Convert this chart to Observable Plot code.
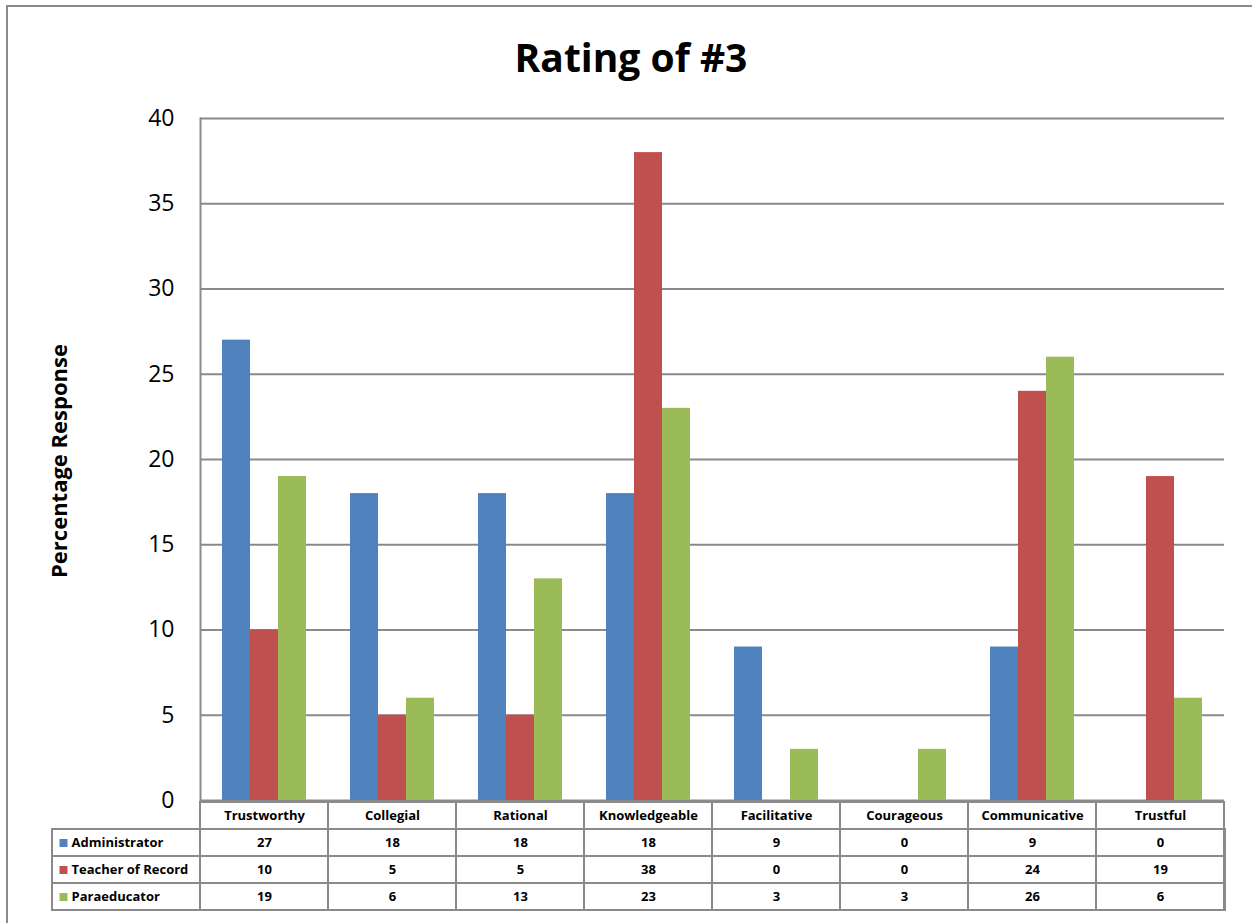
<!DOCTYPE html>
<html>
<head>
<meta charset="utf-8">
<script src="https://cdn.jsdelivr.net/npm/d3@7"></script>
<script src="https://cdn.jsdelivr.net/npm/@observablehq/plot@0.6"></script>
<style>
  html, body { margin: 0; padding: 0; background: #fff; overflow: hidden; }
  #page { position: relative; width: 1252px; height: 923px; overflow: hidden; font-family: "Open Sans", sans-serif; color: #000; }
  #page svg { position: absolute; left: 0; }
  #border { position: absolute; left: 6px; top: 5px; width: 1400px; height: 1000px; border: 2px solid #8a8a8a; box-sizing: border-box; pointer-events: none; }
  #title { position: absolute; left: 0; width: 1262px; top: 37px; text-align: center; font-weight: 700; font-size: 39px; line-height: 39px; }
  #ylabel { position: absolute; left: -92px; width: 300px; top: 446px; height: 30px; line-height: 30px; text-align: center; font-weight: 700; font-size: 22px; transform: rotate(-90deg); transform-origin: 150px 15px; }
</style>
</head>
<body>
<div id="page">
  <div id="title">Rating of #3</div>
  <div id="ylabel">Percentage Response</div>
  <div id="border"></div>
</div>
<script>
// Categories rated and the share of each respondent group choosing them
const categories = ["Trustworthy", "Collegial", "Rational", "Knowledgeable", "Facilitative", "Courageous", "Communicative", "Trustful"];
const seriesNames = ["Administrator", "Teacher of Record", "Paraeducator"];
const seriesColors = ["#4F81BD", "#C0504D", "#9BBB59"];
const administrator = [27, 18, 18, 18, 9, 0, 9, 0];
const teacherOfRecord = [10, 5, 5, 38, 0, 0, 24, 19];
const paraeducator = [19, 6, 13, 23, 3, 3, 26, 6];
const yTicks = [0, 5, 10, 15, 20, 25, 30, 35, 40];

const seriesValues = [administrator, teacherOfRecord, paraeducator];
const rows = categories.flatMap((category, i) =>
  seriesNames.map((series, j) => ({category, series, value: seriesValues[j][i]}))
);

const gridColor = "#8a8a8a";
const page = document.getElementById("page");

// Grouped bar chart: one facet per category, one bar per respondent group
const chart = Plot.plot({
  width: 1252,
  height: 802,
  marginTop: 118,
  marginBottom: 2,
  marginLeft: 199,
  marginRight: 27,
  style: {background: "transparent", overflow: "visible", fontFamily: "'Open Sans', sans-serif", color: "#000"},
  fx: {domain: categories, padding: 0, axis: null},
  x: {domain: seriesNames, paddingInner: 0, paddingOuter: 0.75, axis: null},
  y: {domain: [0, 40]},
  color: {domain: seriesNames, range: seriesColors},
  marks: [
    Plot.gridY(yTicks, {stroke: gridColor, strokeOpacity: 1, strokeWidth: 2}),
    Plot.barY(rows, {fx: "category", x: "series", y: "value", fill: "series"}),
    Plot.frame({anchor: "left", stroke: gridColor, strokeWidth: 2, facetAnchor: "left"}),
    Plot.axisY(yTicks, {tickSize: 0, tickPadding: 26, fontSize: 23, label: null, facetAnchor: "left"})
  ]
});
chart.style.top = "0px";
page.insertBefore(chart, document.getElementById("border"));

// Data table under the chart, sharing the category columns
const headerKey = "category";
const table = Plot.plot({
  width: 1252,
  height: 115,
  marginTop: 2,
  marginBottom: 2,
  marginLeft: 52,
  marginRight: 27,
  style: {background: "transparent", overflow: "visible", fontFamily: "'Open Sans', sans-serif", fontSize: "13px", fontWeight: "bold", color: "#000"},
  x: {domain: categories, range: [199, 1225], padding: 0, axis: null},
  y: {domain: [headerKey, ...seriesNames], padding: 0, axis: null},
  color: {domain: seriesNames, range: seriesColors},
  marks: [
    Plot.cell(seriesNames, {y: d => d, fill: "none", stroke: gridColor, strokeWidth: 2}),
    Plot.cell(categories, {x: d => d, y: () => headerKey, fill: "none", stroke: gridColor, strokeWidth: 2}),
    Plot.cell(rows, {x: "category", y: "series", fill: "none", stroke: gridColor, strokeWidth: 2}),
    Plot.text(categories, {x: d => d, y: () => headerKey, text: d => d}),
    Plot.text(rows, {x: "category", y: "series", text: "value"}),
    Plot.dot(seriesNames, {y: d => d, frameAnchor: "left", dx: 11, symbol: "square", r: 4.5, fill: d => d}),
    Plot.text(seriesNames, {y: d => d, frameAnchor: "left", dx: 19, textAnchor: "start", text: d => d})
  ]
});
table.style.top = "798px";
page.insertBefore(table, document.getElementById("border"));
</script>
</body>
</html>
